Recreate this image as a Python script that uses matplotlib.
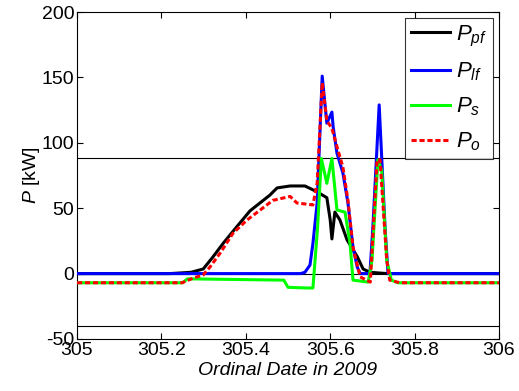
import numpy as np
import matplotlib
matplotlib.use("Agg")
from matplotlib import pyplot as plt

plt.rcParams['font.family'] = ['Liberation Sans', 'DejaVu Sans']
plt.rcParams['mathtext.fontset'] = 'custom'
plt.rcParams['mathtext.it'] = 'Liberation Sans:italic'
plt.rcParams['mathtext.rm'] = 'Liberation Sans'
plt.rcParams['axes.unicode_minus'] = False

# P_pf (black)
t_pf = [305.0, 305.22, 305.27, 305.299, 305.322, 305.346, 305.379, 305.41, 305.457,
        305.474, 305.505, 305.54, 305.569, 305.592, 305.600, 305.604, 305.611, 305.623,
        305.640, 305.664, 305.678, 305.694, 305.735, 306.0]
p_pf = [0, 0, 1, 3.5, 12.7, 23, 36, 48, 60, 65.5, 67, 67, 62.5, 58, 41, 26.5, 47, 41,
        25.7, 13, 3.5, 1, 0, 0]

# P_lf (blue)
t_lf = [305.0, 305.53, 305.540, 305.552, 305.559, 305.569, 305.581, 305.592, 305.604,
        305.607, 305.616, 305.630, 305.642, 305.654, 305.664, 305.671, 305.694, 305.701,
        305.716, 305.730, 305.737, 306.0]
p_lf = [0, 0, 1, 6.5, 23, 54, 151, 115, 123.5, 112, 92, 77, 54, 20, 5, 0, 0, 35, 129,
        35, 0, 0]

# P_s (green)
t_s = [305.0, 305.25, 305.262, 305.49, 305.50, 305.545, 305.559, 305.57, 305.579,
       305.592, 305.604, 305.616, 305.635, 305.647, 305.654, 305.69, 305.699, 305.713,
       305.722, 305.734, 305.745, 305.76, 306.0]
p_s = [-7, -7, -4, -5, -10.5, -11, -11, 35, 88, 69, 88, 48.6, 47, 23, -5, -6.5, 10,
       87, 79, 10, -5, -7, -7]

# P_o (red dashed)
t_o = [305.0, 305.249, 305.275, 305.299, 305.315, 305.339, 305.37, 305.403, 305.434,
       305.464, 305.505, 305.521, 305.559, 305.569, 305.581, 305.592, 305.604, 305.616,
       305.630, 305.642, 305.654, 305.671, 305.695, 305.711, 305.718, 305.734, 305.741,
       305.765, 306.0]
p_o = [-7, -7, -3.5, -1, 5, 15.6, 31, 41, 48.6, 56, 59, 54, 52.5, 69, 146, 117, 111,
       97, 81.5, 56, 20, -2.5, -6.5, 87, 87, 10, -5, -7, -7]

fig = plt.figure(figsize=(5.19, 3.91), dpi=100)
ax = fig.add_axes([0.1484, 0.133, 0.8131, 0.8363])

for yv in [88, 0, -40]:
    ax.axhline(yv, color='black', lw=0.8, zorder=1)

ax.plot(t_pf, p_pf, color='black', lw=2.2, label='$P_{pf}$', zorder=3)
ax.plot(t_lf, p_lf, color='#0000ff', lw=2.2, label='$P_{lf}$', zorder=4)
ax.plot(t_s, p_s, color='#00ff00', lw=2.2, label='$P_{s}$', zorder=5)
ax.plot(t_o, p_o, color='#ff0000', lw=2.2, ls=(0, (1.7, 0.9)), label='$P_{o}$', zorder=6)

ax.set_xlim(305, 306)
ax.set_ylim(-50, 200)
ax.set_xticks([305, 305.2, 305.4, 305.6, 305.8, 306])
ax.set_xticklabels(['305', '305.2', '305.4', '305.6', '305.8', '306'])
ax.set_yticks([-50, 0, 50, 100, 150, 200])
ax.tick_params(direction='in', top=True, right=True, labelsize=14, length=4, pad=2)
ax.set_xlabel('Ordinal Date in 2009', fontsize=14, style='italic', labelpad=2)
ax.set_ylabel('$P$ [kW]', fontsize=14, labelpad=0)

leg = ax.legend(loc='upper right', fontsize=16, frameon=True, fancybox=False,
                edgecolor='black', borderpad=0.25, labelspacing=0.55,
                handlelength=1.75, handletextpad=0.3, borderaxespad=0.27)
leg.get_frame().set_linewidth(0.8)

fig.savefig('out.png', dpi=100)
